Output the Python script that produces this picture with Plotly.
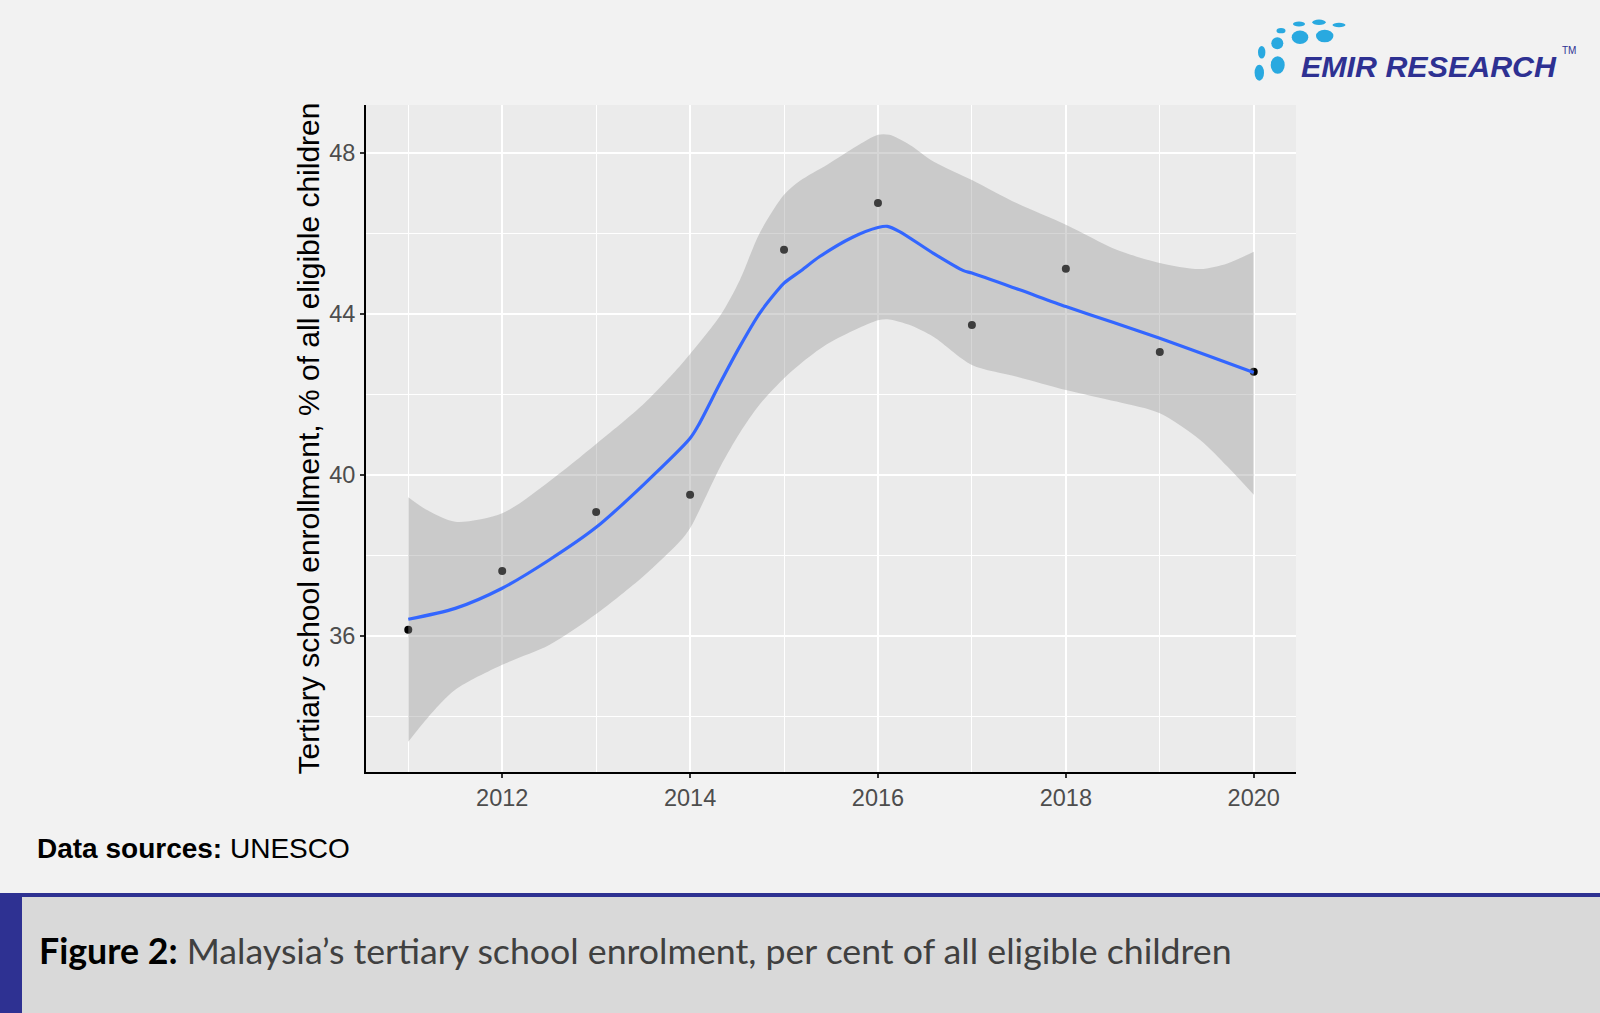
import plotly.graph_objects as go

# ---------------- data ----------------
years = [2011, 2012, 2013, 2014, 2015, 2016, 2017, 2018, 2019, 2020]
enrolment = [36.16, 37.62, 39.08, 39.51, 45.59, 46.75, 43.72, 45.12, 43.05, 42.56]

fit_x = [2011, 2011.5, 2012, 2012.5, 2013, 2013.5, 2014, 2014.09, 2014.32, 2014.53,
         2014.74, 2014.92, 2015, 2015.17, 2015.38, 2015.73, 2016, 2016.1, 2016.23,
         2016.59, 2016.91, 2017, 2017.5, 2018, 2018.5, 2019, 2019.5, 2020]
fit_y = [36.42, 36.69, 37.19, 37.89, 38.70, 39.75, 40.91, 41.24, 42.28, 43.19,
         44.01, 44.55, 44.76, 45.05, 45.42, 45.90, 46.14, 46.17, 46.04,
         45.50, 45.07, 45.01, 44.60, 44.18, 43.79, 43.39, 42.97, 42.54]

band_x = [2011, 2011.2, 2011.5, 2012, 2012.5, 2013, 2013.5, 2013.89, 2014,
          2014.32, 2014.53, 2014.74, 2015, 2015.17, 2015.46, 2016, 2016.12, 2016.34,
          2016.59, 2017, 2017.48, 2018, 2018.54, 2019, 2019.43, 2019.72, 2020]
band_upper = [39.45, 39.13, 38.84, 39.05, 39.84, 40.77, 41.75, 42.70, 43.00,
              43.95, 44.84, 46.00, 46.95, 47.30, 47.70, 48.44, 48.44, 48.19,
              47.78, 47.32, 46.74, 46.21, 45.59, 45.26, 45.11, 45.25, 45.54]
band_lower = [33.38, 33.96, 34.67, 35.29, 35.78, 36.55, 37.48, 38.35, 38.68,
              40.20, 41.05, 41.75, 42.40, 42.75, 43.25, 43.84, 43.86, 43.72,
              43.43, 42.73, 42.44, 42.11, 41.82, 41.53, 40.87, 40.21, 39.51]

x_ticks = [2012, 2014, 2016, 2018, 2020]
y_ticks = [36, 40, 44, 48]

# ---------------- layout geometry (pixels) ----------------
W, H = 1600, 1013
L, R, T, B = 366, 1296, 105, 772


def px(x):
    return (x - L) / (R - L)


def py(y):
    return (B - y) / (B - T)


FONT = "Liberation Sans, Arial, sans-serif"

fig = go.Figure()

fig.add_trace(go.Scatter(
    x=years, y=enrolment, mode="markers",
    marker=dict(color="black", size=8),
    hoverinfo="skip", showlegend=False))

fig.add_trace(go.Scatter(
    x=band_x, y=band_lower, mode="lines",
    line=dict(width=0, shape="spline", smoothing=0.8),
    hoverinfo="skip", showlegend=False))
fig.add_trace(go.Scatter(
    x=band_x, y=band_upper, mode="lines", fill="tonexty",
    fillcolor="rgba(153,153,153,0.4)",
    line=dict(width=0, shape="spline", smoothing=0.8),
    hoverinfo="skip", showlegend=False))

fig.add_trace(go.Scatter(
    x=fit_x, y=fit_y, mode="lines",
    line=dict(color="#3366FF", width=3.2, shape="spline", smoothing=0.8),
    hoverinfo="skip", showlegend=False))

axis_common = dict(
    showline=True, linecolor="black", linewidth=2, mirror=False,
    ticks="outside", ticklen=4, tickwidth=1.5, tickcolor="#333333",
    gridcolor="white", gridwidth=2, zeroline=False,
    tickfont=dict(family=FONT, size=23.5, color="#4d4d4d"),
)

fig.update_xaxes(
    range=[2010.55, 2020.45], tickvals=x_ticks, ticktext=[str(v) for v in x_ticks],
    minor=dict(tick0=2011, dtick=2, showgrid=True, gridcolor="white", gridwidth=1, ticks=""),
    **axis_common)
fig.update_yaxes(
    range=[32.63, 49.18], tickvals=y_ticks, ticktext=[str(v) for v in y_ticks],
    minor=dict(tick0=34, dtick=4, showgrid=True, gridcolor="white", gridwidth=1, ticks=""),
    **axis_common)

shapes = [
    # caption band
    dict(type="rect", xref="paper", yref="paper", x0=px(0), x1=px(W), y0=py(897), y1=py(H + 2),
         fillcolor="#d9d9d9", line=dict(width=0), layer="below"),
    dict(type="rect", xref="paper", yref="paper", x0=px(0), x1=px(W), y0=py(893), y1=py(897),
         fillcolor="#2e3192", line=dict(width=0), layer="below"),
    dict(type="rect", xref="paper", yref="paper", x0=px(0), x1=px(22), y0=py(893), y1=py(H + 2),
         fillcolor="#2e3192", line=dict(width=0), layer="below"),
]

# logo dots (decoration)
dots = [
    (1299, 24, 6, 2.4), (1319, 22.3, 6.7, 2.7), (1339, 25, 6.5, 2.2),
    (1281, 30.7, 4.5, 2.6), (1300, 37.3, 8.3, 6.7), (1324.7, 36, 8.7, 6.3),
    (1277.3, 43.3, 6, 6), (1261.7, 52.3, 3.7, 6.3), (1277.7, 65, 7, 8.7),
    (1259.3, 72.7, 4.7, 8),
]
for cx, cy, rx, ry in dots:
    shapes.append(dict(type="circle", xref="paper", yref="paper",
                       x0=px(cx - rx), x1=px(cx + rx), y0=py(cy + ry), y1=py(cy - ry),
                       fillcolor="#29a9e0", line=dict(width=0)))

annotations = [
    dict(text="Tertiary school enrollment, % of all eligible children",
         xref="paper", yref="paper", x=px(308), y=py(438.5), textangle=-90,
         xanchor="center", yanchor="middle", showarrow=False,
         font=dict(family=FONT, size=30, color="black")),
    dict(text="<b>Data sources:</b> UNESCO",
         xref="paper", yref="paper", x=px(35), y=py(848),
         xanchor="left", yanchor="middle", showarrow=False,
         font=dict(family=FONT, size=28, color="black")),
    dict(text="<b>Figure 2:</b> <span style='color:#404040'>Malaysia\u2019s tertiary school enrolment, per cent of all eligible children</span>",
         xref="paper", yref="paper", x=px(37), y=py(950),
         xanchor="left", yanchor="middle", showarrow=False,
         font=dict(family="Lato, sans-serif", size=35.7, color="black")),
    dict(text="<b><i>EMIR RESEARCH</i></b>",
         xref="paper", yref="paper", x=px(1429), y=py(66),
         xanchor="center", yanchor="middle", showarrow=False,
         font=dict(family=FONT, size=30.4, color="#2e3192")),
    dict(text="TM",
         xref="paper", yref="paper", x=px(1569), y=py(50),
         xanchor="center", yanchor="middle", showarrow=False,
         font=dict(family=FONT, size=10, color="#2e3192")),
]

fig.update_layout(
    width=W, height=H,
    margin=dict(l=L, r=W - R, t=T, b=H - B, autoexpand=False),
    paper_bgcolor="#f2f2f2", plot_bgcolor="#ebebeb",
    shapes=shapes, annotations=annotations, showlegend=False,
)

fig.write_html("out.html", config={"displayModeBar": False},
               post_script="document.body.style.margin='0';")
